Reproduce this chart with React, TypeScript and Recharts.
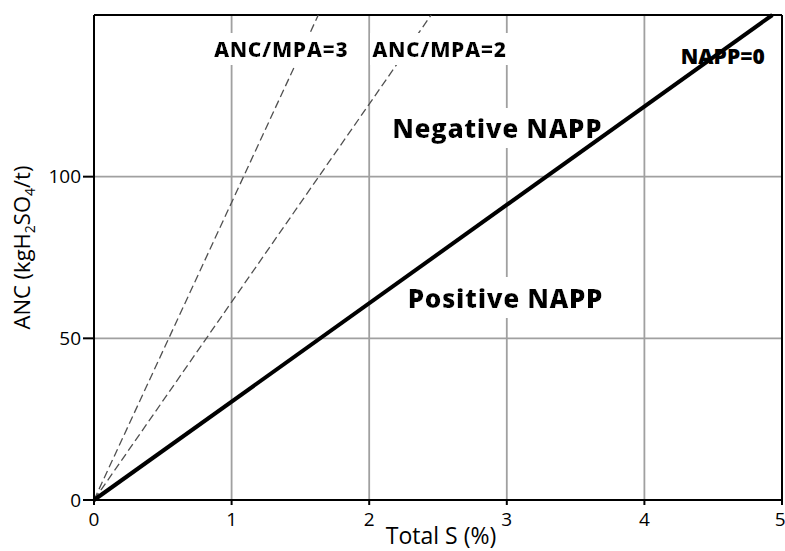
import React from 'react';
import { LineChart, Line, XAxis, YAxis, CartesianGrid, ReferenceLine, ReferenceDot } from 'recharts';

const xTicks = [0, 1, 2, 3, 4, 5];
const yTicks = [0, 50, 100];

// lines run from the origin to where they leave the plot at the top (ANC = 150)
const nappZero = [{ s: 0, anc: 0 }, { s: 4.93, anc: 150 }];
const ratioTwo = [{ s: 0, anc: 0 }, { s: 2.45, anc: 150 }];
const ratioThree = [{ s: 0, anc: 0 }, { s: 1.63, anc: 150 }];

const annotations = [
  { s: 1.36, anc: 139.6, text: 'ANC/MPA=3' },
  { s: 2.51, anc: 139.6, text: 'ANC/MPA=2' },
  { s: 4.57, anc: 137.2, text: 'NAPP=0' },
  { s: 2.93, anc: 115, text: 'Negative NAPP' },
  { s: 2.99, anc: 62.6, text: 'Positive NAPP' },
];

const FONT = '"Open Sans", sans-serif';

const annotationStyle: Record<string, { size: number; spacing: number; bg: boolean }> = {
  'ANC/MPA=3': { size: 21, spacing: 0.6, bg: true },
  'ANC/MPA=2': { size: 21, spacing: 0.6, bg: true },
  'NAPP=0': { size: 21, spacing: 0, bg: false },
  'Negative NAPP': { size: 26, spacing: 0.6, bg: true },
  'Positive NAPP': { size: 26, spacing: 0.6, bg: true },
};

const AnnotationText = ({ cx, cy, text }: any) => {
  const st = annotationStyle[text];
  return (
    <text
      x={cx}
      y={cy}
      textAnchor="middle"
      dominantBaseline="central"
      fontFamily={FONT}
      fontWeight={800}
      fontSize={st.size}
      letterSpacing={st.spacing}
      fill="#000"
      filter={st.bg ? 'url(#whiteBg)' : undefined}
    >
      {text}
    </text>
  );
};

const YAxisTitle = ({ viewBox }: any) => {
  const x = viewBox.x + 30;
  const y = viewBox.y + viewBox.height / 2 - 10;
  return (
    <text x={x} y={y} transform={`rotate(-90 ${x} ${y})`} textAnchor="middle" fontFamily={FONT} fontSize={22} fill="#000">
      ANC (kgH<tspan fontSize={14} dy={5}>2</tspan>
      <tspan dy={-5}>SO</tspan>
      <tspan fontSize={14} dy={5}>4</tspan>
      <tspan dy={-5}>/t)</tspan>
    </text>
  );
};

const XAxisTitle = ({ viewBox }: any) => (
  <text x={viewBox.x + viewBox.width / 2 + 3} y={viewBox.y + 44} textAnchor="middle" fontFamily={FONT} fontSize={23} fill="#000">
    Total S (%)
  </text>
);

const App = () => {
  return (
    <div style={{ position: 'absolute', left: 0, top: 0, background: '#fff' }}>
      <LineChart width={785} height={551} margin={{ top: 15, right: 3, left: 0, bottom: 0 }}>
        <defs>
          <filter id="whiteBg" x="-0.015" y="-0.05" width="1.03" height="1.1">
            <feFlood floodColor="#fff" />
            <feComposite in="SourceGraphic" />
          </filter>
        </defs>
        <CartesianGrid stroke="#a0a0a0" strokeWidth={1.8} />
        <XAxis
          type="number"
          dataKey="s"
          domain={[0, 5]}
          ticks={xTicks}
          height={51}
          stroke="#000"
          strokeWidth={2}
          tickSize={5}
          tickMargin={8}
          tick={{ fill: '#000', fontSize: 19, fontFamily: FONT }}
          label={{ content: XAxisTitle }}
        />
        <YAxis
          type="number"
          dataKey="anc"
          domain={[0, 150]}
          ticks={yTicks}
          width={94}
          stroke="#000"
          strokeWidth={2}
          tickSize={11}
          tickMargin={2}
          tick={{ fill: '#000', fontSize: 19, fontFamily: FONT }}
          label={{ content: YAxisTitle }}
        />
        <ReferenceLine y={150} stroke="#000" strokeWidth={2} />
        <ReferenceLine x={5} stroke="#000" strokeWidth={2} />
        <Line data={ratioThree} dataKey="anc" stroke="#505050" strokeWidth={1.3} strokeDasharray="8 4" dot={false} isAnimationActive={false} />
        <Line data={ratioTwo} dataKey="anc" stroke="#505050" strokeWidth={1.3} strokeDasharray="8 4" dot={false} isAnimationActive={false} />
        {annotations.map((a) => (
          <ReferenceDot
            key={a.text}
            x={a.s}
            y={a.anc}
            r={1}
            zIndex={450}
            shape={(p: any) => <AnnotationText cx={p.cx} cy={p.cy} text={a.text} />}
          />
        ))}
        <Line data={nappZero} dataKey="anc" stroke="#000" strokeWidth={4} dot={false} zIndex={900} isAnimationActive={false} />
      </LineChart>
    </div>
  );
};

export default App;
